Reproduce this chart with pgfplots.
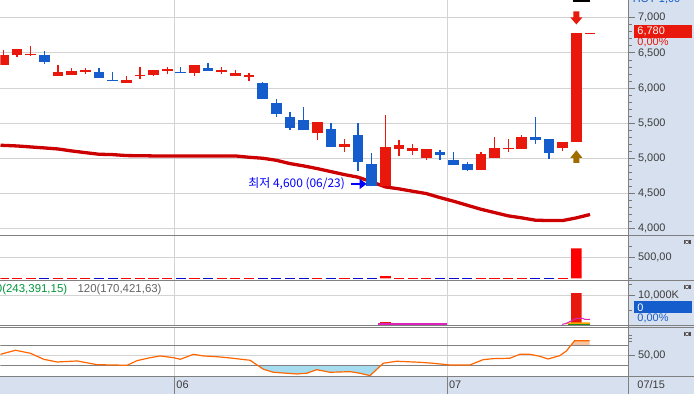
\documentclass[border=0pt]{standalone}
\usepackage{fontspec}
\setmainfont{Liberation Sans}
\newfontfamily\krfont{Noto Sans CJK KR}
\usepackage{pgfplots}
\pgfplotsset{compat=1.18}
\usepackage{pgfplotstable}
\usetikzlibrary{arrows.meta}

\definecolor{upred}{RGB}{232,25,12}
\definecolor{downblue}{RGB}{21,93,204}
\definecolor{maRed}{RGB}{204,0,0}
\definecolor{gridgray}{RGB}{211,211,211}
\definecolor{sepgray}{RGB}{128,128,128}
\definecolor{tickgray}{RGB}{120,120,120}
\definecolor{panelbg}{RGB}{214,224,238}
\definecolor{labgray}{RGB}{60,60,60}
\definecolor{oscOrange}{RGB}{255,102,0}
\definecolor{skyfill}{RGB}{166,220,240}
\definecolor{peach}{RGB}{248,196,160}
\definecolor{magline}{RGB}{221,34,187}
\definecolor{brownArrow}{RGB}{160,108,0}
\definecolor{legGreen}{RGB}{0,150,60}
\definecolor{legGray}{RGB}{100,100,100}
\definecolor{pureRed}{RGB}{255,0,0}
\definecolor{dashBlue}{RGB}{10,10,210}
\definecolor{annBlue}{RGB}{0,0,255}
\definecolor{btngray}{RGB}{80,80,80}
\definecolor{volOrange}{RGB}{255,165,0}
\definecolor{volGreen}{RGB}{34,139,34}

\newcommand{\labfont}{\fontsize{11}{12}\selectfont}

\pgfdeclareplotmark{darrow}{%
  \pgfpathmoveto{\pgfqpoint{-3bp}{6.5bp}}%
  \pgfpathlineto{\pgfqpoint{3bp}{6.5bp}}%
  \pgfpathlineto{\pgfqpoint{3bp}{0.5bp}}%
  \pgfpathlineto{\pgfqpoint{6bp}{0.5bp}}%
  \pgfpathlineto{\pgfqpoint{0bp}{-6.5bp}}%
  \pgfpathlineto{\pgfqpoint{-6bp}{0.5bp}}%
  \pgfpathlineto{\pgfqpoint{-3bp}{0.5bp}}%
  \pgfpathclose\pgfusepathqfill}
\pgfdeclareplotmark{uarrow}{%
  \pgfpathmoveto{\pgfqpoint{0bp}{6.5bp}}%
  \pgfpathlineto{\pgfqpoint{6bp}{-1bp}}%
  \pgfpathlineto{\pgfqpoint{3bp}{-1bp}}%
  \pgfpathlineto{\pgfqpoint{3bp}{-6.2bp}}%
  \pgfpathlineto{\pgfqpoint{-3bp}{-6.2bp}}%
  \pgfpathlineto{\pgfqpoint{-3bp}{-1bp}}%
  \pgfpathlineto{\pgfqpoint{-6bp}{-1bp}}%
  \pgfpathclose\pgfusepathqfill}

\pgfplotstableread{
x o h l c
0 6322 6535 6322 6474
1 6464 6550 6441 6550
2 6470 6592 6455 6490
4 6166 6322 6166 6227
5 6185 6280 6185 6242
6 6227 6280 6204 6256
9 6071 6166 6071 6109
10 6166 6294 6128 6185
11 6185 6251 6166 6251
12 6242 6294 6199 6270
14 6213 6322 6166 6322
16 6227 6303 6204 6251
17 6171 6251 6171 6213
18 6161 6213 6100 6180
23 5360 5512 5256 5512
25 5161 5270 5090 5199
28 4600 5611 4600 5156
29 5128 5256 5033 5185
30 5099 5208 5052 5142
31 5009 5128 4981 5128
35 4839 5090 4839 5057
36 5005 5298 5005 5142
37 5128 5270 5090 5147
38 5137 5336 5137 5298
41 5147 5227 5104 5227
42 5232 6780 5232 6780
}\upcandles

\pgfplotstableread{
x o h l c
3 6464 6521 6341 6370
7 6227 6280 6142 6142
8 6114 6223 6100 6100
13 6222 6294 6208 6208
15 6280 6355 6242 6242
19 6066 6085 5843 5843
20 5782 5839 5587 5630
21 5583 5654 5398 5426
22 5540 5725 5398 5398
24 5412 5497 5161 5161
26 5327 5507 4820 4948
27 4914 5071 4600 4600
32 5085 5123 4981 5047
33 4971 5085 4905 4905
34 4914 4943 4820 4839
39 5303 5583 5204 5265
40 5270 5270 4990 5076
}\downcandles

\pgfplotsset{
  panel/.style={
    scale only axis, width=629bp, xmin=-0.22, xmax=45.83,
    anchor=south west,
    axis line style={draw=none},
    xtick={12.55,32.52}, xticklabels={},
    xmajorgrids, ymajorgrids,
    grid style={draw=gridgray, line width=1bp},
    ytick pos=right, yticklabel pos=right,
    ytick align=outside, xtick align=inside,
    major tick length=6bp, minor tick length=3bp,
    every tick/.style={draw=tickgray, line width=0.8bp},
    xtick style={draw=none},
    yticklabel style={font=\labfont, text=labgray, anchor=west},
    scaled y ticks=false,
    /pgf/number format/assume math mode=true,
    clip=true,
  },
  hdash/.style={draw=none, mark=none, error bars/.cd, x dir=both, x fixed=0.37,
    error mark=none, error bar style={draw=#1, line width=1.4bp}},
}

\begin{document}
\begin{tikzpicture}
\begin{scope}[x=1bp, y=1bp]
\fill[white] (0,0) rectangle (694,394);
\fill[panelbg] (629,0) rectangle (694,394);
\fill[panelbg] (0,0) rectangle (694,17);
\end{scope}

% ---------- price panel ----------
\begin{axis}[panel, at={(0bp,159bp)}, height=235bp,
  ymin=3905, ymax=7246, ytick={4000,4500,...,7000}, minor y tick num=4,
  /pgf/number format/1000 sep={,}]
\addplot[maRed, line width=3.3bp] coordinates {
(-0.22,5185) (1,5175) (2,5161) (3,5147) (4,5132) (5,5104) (6,5080) (7,5057)
(8,5052) (9,5038) (10,5036) (11,5033) (17,5033) (18,5014) (19,5000) (20,4971)
(21,4924) (22,4891) (23,4853) (24,4810) (25,4767) (26,4730) (27,4663) (28,4592)
(29,4564) (30,4530) (31,4497) (32,4440) (33,4388) (34,4331) (35,4274) (36,4227)
(37,4180) (38,4151) (39,4118) (40,4113) (41,4113) (42,4151) (43,4199)};
\addplot[draw=none, mark=none, error bars/.cd, y dir=plus, y explicit, error mark=none,
  error bar style={draw=upred, line width=1.3bp}]
  table[x=x, y=l, y error plus expr=\thisrow{h}-\thisrow{l}] {\upcandles};
\addplot[draw=none, mark=none, error bars/.cd, y dir=plus, y explicit, error mark=none,
  error bar style={draw=downblue, line width=1.3bp}]
  table[x=x, y=l, y error plus expr=\thisrow{h}-\thisrow{l}] {\downcandles};
\addplot[draw=none, mark=none, error bars/.cd, y dir=plus, y explicit, error mark=none,
  error bar style={draw=upred, line width=10.7bp}]
  table[x=x, y=o, y error plus expr=\thisrow{c}-\thisrow{o}] {\upcandles};
\addplot[draw=none, mark=none, error bars/.cd, y dir=plus, y explicit, error mark=none,
  error bar style={draw=downblue, line width=10.7bp}]
  table[x=x, y=c, y error plus expr=\thisrow{o}-\thisrow{c}] {\downcandles};
\addplot[hdash=upred] coordinates {(43,6780)};
\addplot[only marks, mark=darrow, mark options={fill=upred, draw=none}] coordinates {(42,6997)};
\addplot[only marks, mark=uarrow, mark options={fill=brownArrow, draw=none}] coordinates {(42,5021)};
\node[anchor=east, inner sep=0pt, text=annBlue, font=\krfont\fontsize{12}{13}\selectfont]
  at (axis cs:25.04,4634) {최저 4,600 (06/23)};
\draw[annBlue, line width=1.2bp, -{Triangle[length=7bp, width=10bp]}]
  (axis cs:25.48,4634) -- (axis cs:26.62,4634);
\end{axis}

% ---------- panel 2 ----------
\begin{axis}[panel, at={(0bp,113.7bp)}, height=45.3bp,
  ymin=-47, ymax=1016, ytick={500}, yticklabels={500{,}00}, minor ytick={0,250,750}]
\addplot[hdash=pureRed]
  coordinates {(0,0) (1,0) (2,0) (4,0) (5,0) (6,0) (9,0) (10,0) (11,0) (12,0) (14,0)
  (16,0) (17,0) (18,0) (23,0) (25,0) (29,0) (30,0) (31,0) (35,0) (36,0) (37,0) (38,0) (41,0)};
\addplot[hdash=dashBlue]
  coordinates {(3,0) (7,0) (8,0) (13,0) (15,0) (19,0) (20,0) (21,0) (22,0) (24,0) (26,0)
  (27,0) (32,0) (33,0) (34,0) (39,0) (40,0)};
\addplot[ybar, bar width=10.7bp, fill=pureRed, draw=none] coordinates {(28,53) (42,708)};
\end{axis}

% ---------- panel 3 ----------
\begin{axis}[panel, at={(0bp,68.7bp)}, height=45bp,
  ymin=0, ymax=15203, ytick={10000}, yticklabels={10{,}000K}, minor ytick={5000,14000}]
\addplot[ybar, bar width=10.7bp, fill=upred, draw=none] coordinates {(28,1115) (42,10912)};
\addplot[volGreen, line width=1.3bp] coordinates {(41.4,300) (43,300)};
\addplot[volOrange, line width=1.3bp] coordinates {(41.2,500) (41.5,750) (43,750)};
\addplot[magline, line width=1.5bp] coordinates {(27.45,480) (32.48,480)};
\addplot[magline, line width=1bp] coordinates {(40.96,300) (41.25,675) (41.5,1220) (41.74,1790)
  (42,2360) (42.48,2360) (42.6,2030) (43,2030)};
\end{axis}

% ---------- panel 4 ----------
\begin{axis}[panel, at={(0bp,17bp)}, height=49.7bp,
  ymin=5.7, ymax=107.1, ytick={50}, yticklabels={50{,}00}, minor ytick={77.8,84.7,91.4}]
\addplot[fill=skyfill, draw=none] coordinates {(18.6,30) (19.06,21.4) (19.79,15.3) (21.50,11.8)
  (22.23,13.3) (22.97,20.6) (23.94,15.3) (25.40,16.5) (26.13,13.3) (26.87,8.4) (27.7,30)};
\addplot[fill=peach, draw=none] coordinates {(41.59,70) (41.87,79.8) (42.97,79.8) (42.97,70)};
\draw[sepgray, line width=1bp] (axis cs:-0.22,70) -- (axis cs:45.83,70);
\draw[sepgray, line width=1bp] (axis cs:-0.22,30) -- (axis cs:45.83,30);
\addplot[oscOrange, line width=1.2bp] coordinates {
(-0.22,52.0) (0.88,60.2) (1.98,54.1) (2.95,41.8) (3.93,36.3) (5.40,38.4) (6.86,30.8)
(9.06,29.6) (9.79,39.0) (10.76,45.1) (11.49,48.6) (12.47,45.1) (12.96,41.8) (13.93,52.0)
(14.66,48.6) (15.64,47.1) (16.62,44.5) (18.08,39.8) (19.06,21.4) (19.79,15.3) (21.50,11.8)
(22.23,13.3) (22.97,20.6) (23.94,15.3) (25.40,16.5) (26.13,13.3) (26.87,8.4) (27.84,33.7)
(28.82,37.8) (30.53,35.7) (31.50,33.7) (32.72,30.2) (34.19,30.2) (35.16,41.0) (35.89,43.1)
(37.12,43.9) (37.85,52.0) (38.58,52.0) (39.31,48.0) (39.92,42.4) (40.78,49.2) (41.27,58.8)
(41.87,79.8) (42.97,79.8)};
\end{axis}

\begin{scope}[x=1bp, y=1bp]
\draw[sepgray, line width=1bp] (0,159) -- (694,159);
\draw[sepgray, line width=1bp] (0,113.7) -- (694,113.7);
\draw[sepgray, line width=1bp] (0,68.5) -- (694,68.5);
\draw[sepgray, line width=1bp] (0,66.7) -- (694,66.7);
\draw[sepgray, line width=1bp] (0,17) -- (694,17);
\draw[sepgray, line width=1bp] (629,0) -- (629,394);
\draw[sepgray, line width=1bp] (174.5,0) -- (174.5,17);
\draw[sepgray, line width=1bp] (447.3,0) -- (447.3,17);

\fill[upred] (634,356.7) rectangle (692,369);
\node[anchor=west, inner sep=0pt, font=\labfont, text=white] at (637.7,362.8) {6,780};
\fill[panelbg] (633.5,346) rectangle (694,356.7);
\node[anchor=west, inner sep=0pt, font=\labfont, text=upred] at (637.7,351.6) {0,00\%};
\fill[downblue] (634,80.7) rectangle (692,93);
\node[anchor=west, inner sep=0pt, font=\labfont, text=white] at (637.7,86.8) {0};
\node[anchor=west, inner sep=0pt, font=\labfont, text=downblue] at (637.7,75.3) {0,00\%};
\node[overlay, anchor=base west, inner sep=0pt, font=\labfont, text=downblue] at (633,391.8) {HCY 1,00};
\draw[black, line width=1.3bp] (573,393.4) -- (590,393.4);

\foreach \yb in {149.7,104.7,57.7}{
  \fill[btngray] (684,\yb) rectangle (691,\yb+4.6);
  \draw[white, line width=0.6bp] (686,\yb+0.9) -- (689,\yb+3.7) (686,\yb+3.7) -- (689,\yb+0.9);
}

\node[overlay, anchor=east, inner sep=0pt, font=\fontsize{11.5}{12}\selectfont, text=legGreen] at (67,104.5) {60(243,391,15)};
\node[anchor=west, inner sep=0pt, font=\fontsize{11.5}{12}\selectfont, text=legGray] at (77,104.5) {120(170,421,63)};

\node[anchor=west, inner sep=0pt, font=\labfont, text=labgray] at (176,9.3) {06};
\node[anchor=west, inner sep=0pt, font=\labfont, text=labgray] at (449,9.3) {07};
\node[anchor=west, inner sep=0pt, font=\labfont, text=labgray] at (637.7,9.3) {07/15};
\end{scope}
\end{tikzpicture}
\end{document}
